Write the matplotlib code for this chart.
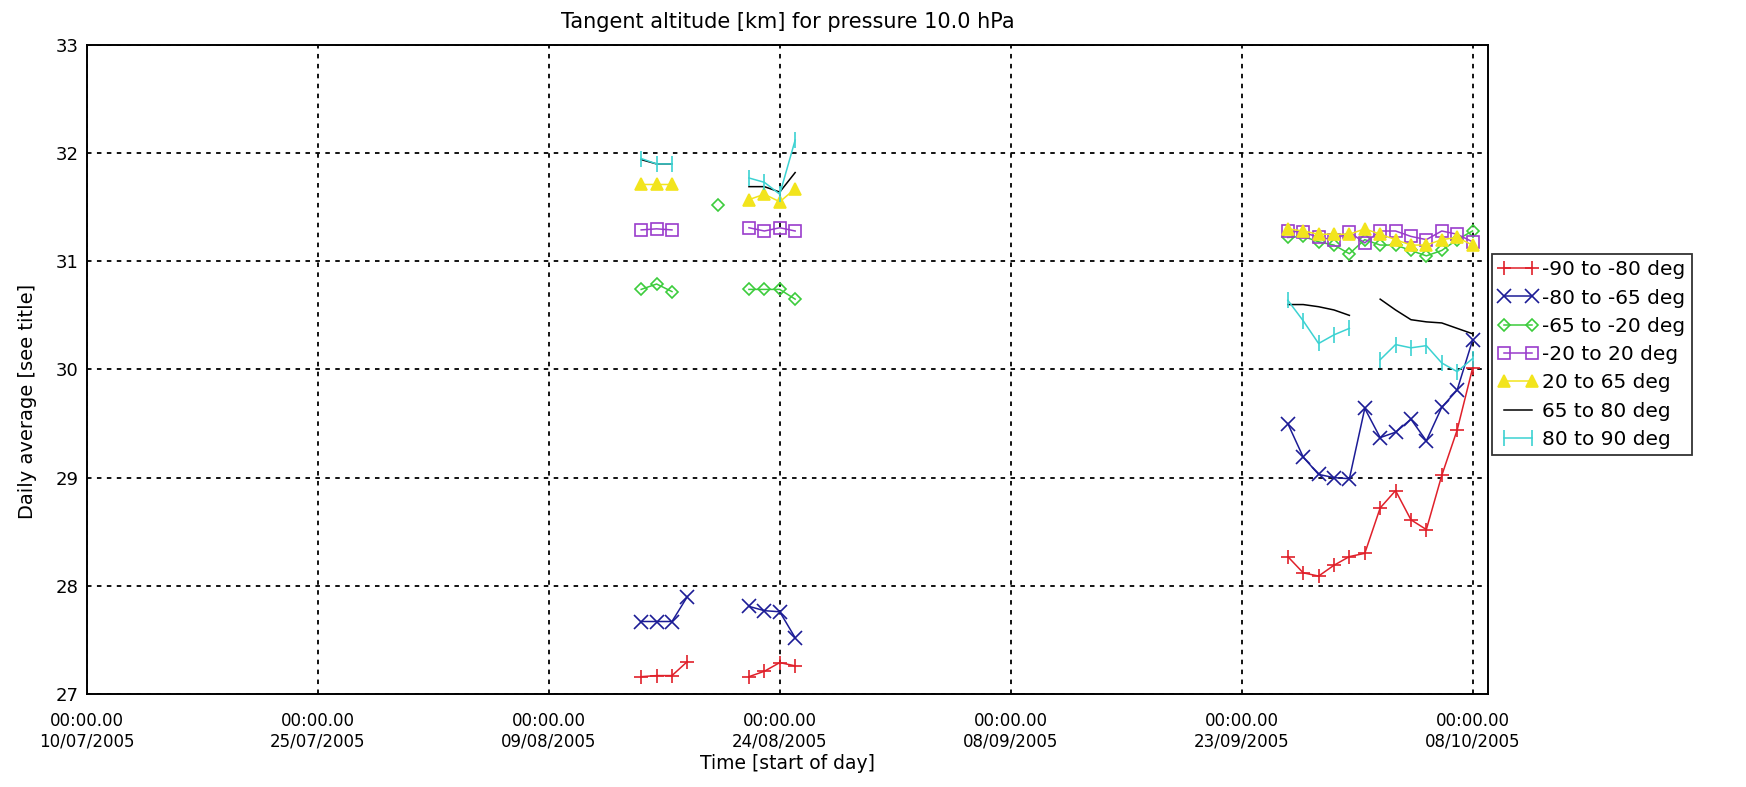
import numpy as np
import pandas as pd
import matplotlib
matplotlib.use("Agg")
import matplotlib.pyplot as plt
import matplotlib.dates as mdates

nan = np.nan

# days with data (gap rows are NaN everywhere so the lines break)
dates = ['2005-08-15', '2005-08-16', '2005-08-17', '2005-08-18', '2005-08-19',
         '2005-08-20', '2005-08-21', '2005-08-22', '2005-08-23', '2005-08-24',
         '2005-08-25', '2005-09-10',
         '2005-09-26', '2005-09-27', '2005-09-28', '2005-09-29', '2005-09-30',
         '2005-10-01', '2005-10-02', '2005-10-03', '2005-10-04', '2005-10-05',
         '2005-10-06', '2005-10-07', '2005-10-08']

lat_90_80s = [27.16, 27.17, 27.17, 27.30, nan, nan, nan, 27.16, 27.21, 27.29, 27.26, nan,
              28.27, 28.12, 28.09, 28.19, 28.27, 28.30, 28.72, 28.88, 28.61, 28.52, 29.02, 29.44, 30.01]
lat_80_65s = [27.67, 27.67, 27.67, 27.90, nan, nan, nan, 27.81, 27.77, 27.76, 27.52, nan,
              29.50, 29.19, 29.03, 29.00, 28.99, 29.64, 29.37, 29.42, 29.54, 29.34, 29.65, 29.81, 30.27]
lat_65_20s = [30.74, 30.79, 30.72, nan, nan, 31.52, nan, 30.74, 30.74, 30.74, 30.65, nan,
              31.22, 31.23, 31.18, 31.15, 31.07, 31.20, 31.15, 31.15, 31.10, 31.05, 31.10, 31.20, 31.28]
lat_20s_20n = [31.29, 31.30, 31.29, nan, nan, nan, nan, 31.31, 31.28, 31.31, 31.28, nan,
               31.28, 31.27, 31.22, 31.20, 31.27, 31.17, 31.28, 31.28, 31.23, 31.20, 31.28, 31.25, 31.18]
lat_20_65n = [31.71, 31.71, 31.71, nan, nan, nan, nan, 31.57, 31.62, 31.55, 31.67, nan,
              31.30, 31.28, 31.25, 31.25, 31.25, 31.30, 31.25, 31.20, 31.15, 31.15, 31.20, 31.22, 31.15]
lat_65_80n = [31.94, 31.90, 31.90, nan, nan, nan, nan, 31.69, 31.69, 31.64, 31.82, nan,
              30.60, 30.60, 30.58, 30.55, 30.50, nan, 30.65, 30.55, 30.46, 30.44, 30.43, 30.38, 30.33]
lat_80_90n = [31.95, 31.90, 31.90, nan, nan, nan, nan, 31.77, 31.73, 31.62, 32.12, nan,
              30.64, 30.45, 30.24, 30.32, 30.38, nan, 30.09, 30.23, 30.20, 30.22, 30.06, 29.98, 30.10]

labels = ['-90 to -80 deg', '-80 to -65 deg', '-65 to -20 deg', '-20 to 20 deg',
          '20 to 65 deg', '65 to 80 deg', '80 to 90 deg']
tick_dates = ['2005-07-10', '2005-07-25', '2005-08-09', '2005-08-24',
              '2005-09-08', '2005-09-23', '2005-10-08']
x_range = ['2005-07-10', '2005-10-09']

series = [lat_90_80s, lat_80_65s, lat_65_20s, lat_20s_20n, lat_20_65n, lat_65_80n, lat_80_90n]
colors = ['#e0202a', '#1c1c96', '#3ccc3c', '#9a3ccc', '#f2e41c', '#000000', '#3cd2d2']
markers = ['+', 'x', 'D', 's', '^', None, '|']
msizes = [9.5, 9.5, 6.5, 8, 8, 0, 11]

plt.rcParams['font.family'] = 'DejaVu Sans'
fig = plt.figure(figsize=(17.46, 7.87), dpi=100)
ax = fig.add_axes([0.0498, 0.1182, 0.8024, 0.8247])

x = pd.to_datetime(dates)
for vals, lab, c, m, ms in zip(series, labels, colors, markers, msizes):
    filled = m == '^'
    ax.plot(x, vals, color=c, lw=1.1, marker=m, markersize=ms,
            markerfacecolor=c if filled else 'none', markeredgecolor=c,
            markeredgewidth=1.2, label=lab)

ax.set_xlim(pd.to_datetime(x_range[0]), pd.to_datetime(x_range[1]))
ax.set_ylim(27, 33)
ax.set_xticks(pd.to_datetime(tick_dates))
ax.xaxis.set_major_formatter(mdates.DateFormatter('%H:%M.%S\n%d/%m/%Y'))
ax.set_yticks(range(27, 34))
ax.tick_params(axis='x', length=0, labelsize=12, pad=13)
ax.tick_params(axis='y', length=0, labelsize=13, pad=6)
ax.grid(True, color='k', linestyle=(0, (2.5, 3)), linewidth=1.3)
for s in ax.spines.values():
    s.set_linewidth(1.4)

ax.set_title('Tangent altitude [km] for pressure 10.0 hPa', fontsize=15, pad=12)
ax.set_xlabel('Time [start of day]', fontsize=13.5, labelpad=2)
ax.set_ylabel('Daily average [see title]', fontsize=14)
ax.yaxis.set_label_coords(-0.036, 0.45)

leg = ax.legend(loc='upper left', bbox_to_anchor=(0.8545, 0.677),
                bbox_transform=fig.transFigure, fontsize=14.5, numpoints=2,
                handlelength=2.0, handletextpad=0.2, labelspacing=0.46,
                borderpad=0.3, borderaxespad=0, fancybox=False, frameon=True)
leg.get_frame().set_edgecolor('k')
leg.get_frame().set_linewidth(1.3)

fig.savefig('out.png', dpi=100)
